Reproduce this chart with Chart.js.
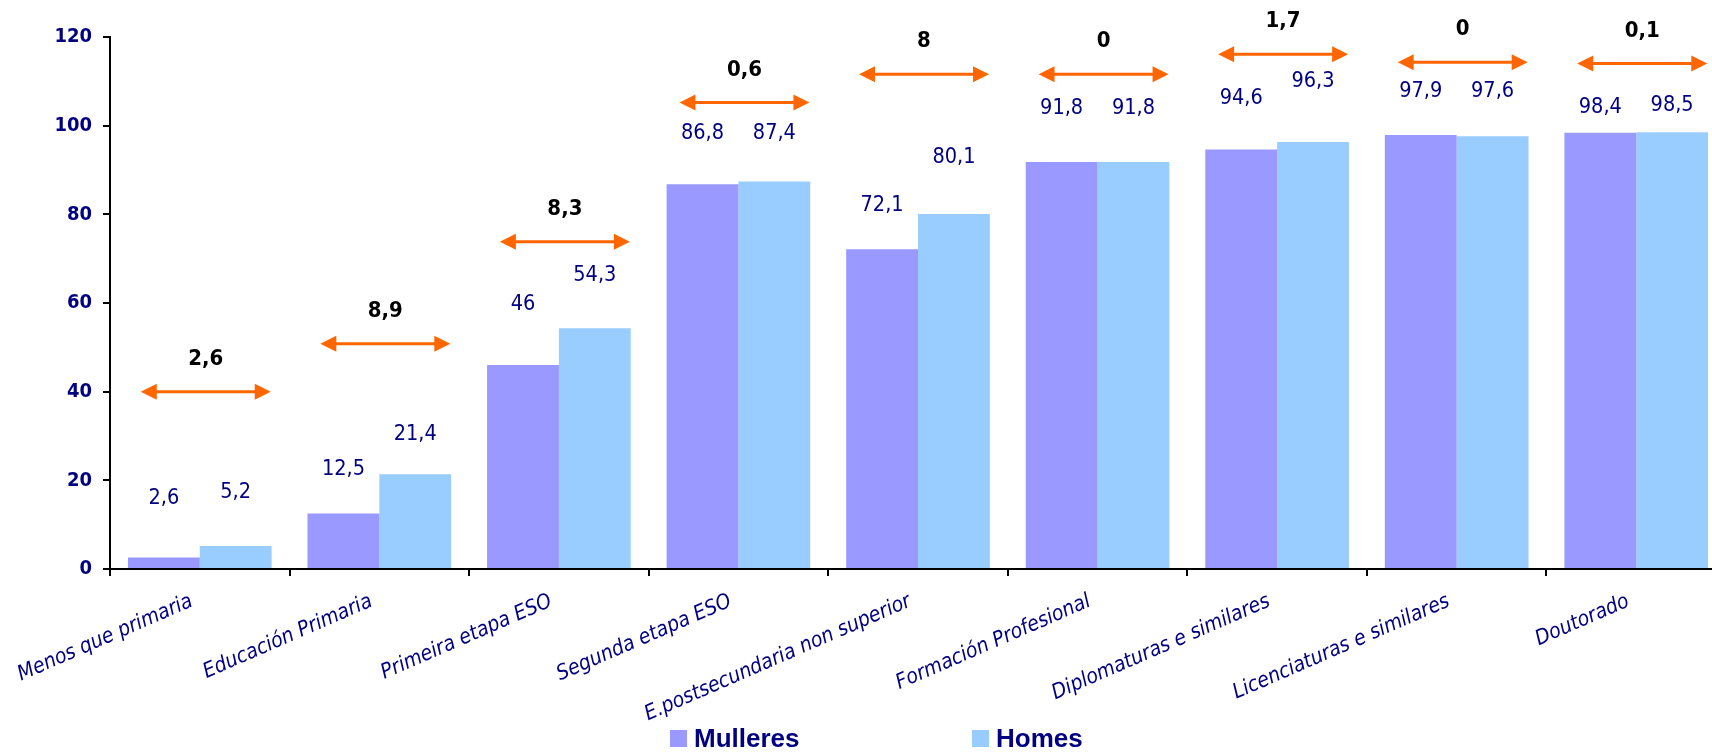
<!DOCTYPE html>
<html>
<head>
<meta charset="utf-8">
<script src="https://cdn.jsdelivr.net/npm/chart.js@4.4.1/dist/chart.umd.min.js"></script>
<style>
  html, body { margin: 0; padding: 0; background: #fff; overflow: hidden; }
  #wrap { width: 1712px; height: 752px; overflow: hidden; }
</style>
</head>
<body>
<div id="wrap"><canvas id="chart" width="1730" height="752"></canvas></div>
<script>
// data
const categories = ['Menos que primaria', 'Educación Primaria', 'Primeira etapa ESO', 'Segunda etapa ESO',
  'E.postsecundaria non superior', 'Formación Profesional', 'Diplomaturas e similares',
  'Licenciaturas e similares', 'Doutorado'];
const mulleres = [2.6, 12.5, 46, 86.8, 72.1, 91.8, 94.6, 97.9, 98.4];
const homes = [5.2, 21.4, 54.3, 87.4, 80.1, 91.8, 96.3, 97.6, 98.5];
const gaps = [2.6, 8.9, 8.3, 0.6, 8, 0, 1.7, 0, 0.1];
const yTicks = [0, 20, 40, 60, 80, 100, 120];

// where the annotations sit (in axis units)
const labelAtM = [16.0, 22.4, 59.6, 98.3, 81.9, 104, 106.2, 107.8, 104.2];
const labelAtH = [17.2, 30.4, 66.3, 98.3, 92.8, 104, 109.9, 107.8, 104.5];
const arrowAt = [40, 50.8, 73.8, 105.2, 111.6, 111.6, 116.1, 114.3, 114];

const FONT = "'DejaVu Sans Condensed', 'DejaVu Sans', sans-serif";
const NAVY = '#000080';
const ORANGE = '#ff6600';

const fmt = v => String(v).replace('.', ',');

const annotations = {
  id: 'annotations',
  afterDatasetsDraw(chart) {
    const ctx = chart.ctx;
    const xs = chart.scales.x, ys = chart.scales.y;
    const catW = xs.width / categories.length;
    ctx.save();

    // value labels above bars
    ctx.font = '21.5px ' + FONT;
    ctx.fillStyle = NAVY;
    ctx.textAlign = 'center';
    ctx.textBaseline = 'middle';
    [labelAtM, labelAtH].forEach((pos, d) => {
      chart.getDatasetMeta(d).data.forEach((bar, i) => {
        ctx.fillText(fmt(chart.data.datasets[d].data[i]), bar.x, ys.getPixelForValue(pos[i]));
      });
    });

    // orange double arrows + gap labels
    gaps.forEach((g, i) => {
      const cx = xs.getPixelForValue(i) + 6;
      const ay = ys.getPixelForValue(arrowAt[i]);
      const x1 = cx - catW * 0.362, x2 = cx + catW * 0.362;
      const head = 16, half = 8;
      ctx.strokeStyle = ORANGE;
      ctx.fillStyle = ORANGE;
      ctx.lineWidth = 3;
      ctx.beginPath();
      ctx.moveTo(x1 + head - 2, ay);
      ctx.lineTo(x2 - head + 2, ay);
      ctx.stroke();
      ctx.beginPath();
      ctx.moveTo(x1, ay);
      ctx.lineTo(x1 + head, ay - half);
      ctx.lineTo(x1 + head, ay + half);
      ctx.closePath();
      ctx.fill();
      ctx.beginPath();
      ctx.moveTo(x2, ay);
      ctx.lineTo(x2 - head, ay - half);
      ctx.lineTo(x2 - head, ay + half);
      ctx.closePath();
      ctx.fill();

      ctx.fillStyle = '#000';
      ctx.font = 'bold 22px ' + FONT;
      ctx.textBaseline = 'alphabetic';
      ctx.fillText(fmt(g), cx, ay - 27);
    });
    ctx.restore();
  },
  afterDraw(chart) {
    // legend at the bottom
    const ctx = chart.ctx;
    ctx.save();
    ctx.font = "bold 26px 'Liberation Sans', Arial, sans-serif";
    ctx.textBaseline = 'alphabetic';
    ctx.textAlign = 'left';
    chart.data.datasets.forEach((ds, i) => {
      const lx = 670 + i * 302;
      ctx.fillStyle = ds.backgroundColor;
      ctx.fillRect(lx, 730, 17, 17);
      ctx.fillStyle = NAVY;
      ctx.fillText(ds.label, lx + 24, 747);
    });
    ctx.restore();
  }
};

const ctx = document.getElementById('chart').getContext('2d');
const chart = new Chart(ctx, {
  type: 'bar',
  data: {
    labels: categories,
    datasets: [
      { label: 'Mulleres', data: mulleres, backgroundColor: '#9999ff' },
      { label: 'Homes', data: homes, backgroundColor: '#99ccff' }
    ]
  },
  options: {
    responsive: false,
    animation: false,
    layout: { padding: { top: 37, right: 4, left: 0, bottom: 0 } },
    datasets: { bar: { categoryPercentage: 0.8, barPercentage: 1.0 } },
    plugins: {
      legend: { display: false },
      tooltip: { enabled: false }
    },
    scales: {
      x: {
        grid: { drawOnChartArea: false, color: '#000', lineWidth: 2, tickLength: 7 },
        border: { color: '#000', width: 2 },
        ticks: {
          color: NAVY,
          font: { family: FONT, size: 21, style: 'italic' },
          minRotation: 23.5,
          maxRotation: 23.5,
          autoSkip: false,
          padding: 13,
          labelOffset: -8
        },
        afterFit: s => { s.height = 183; }
      },
      y: {
        min: 0,
        max: 120,
        afterBuildTicks: s => { s.ticks = yTicks.map(v => ({ value: v })); },
        grid: { drawOnChartArea: false, color: '#000', lineWidth: 2, tickLength: 7 },
        border: { color: '#000', width: 2 },
        ticks: {
          color: NAVY,
          font: { family: FONT, size: 20, weight: 'bold' },
          padding: 11
        },
        afterFit: s => { s.width = 110; }
      }
    }
  },
  plugins: [annotations]
});
</script>
</body>
</html>
